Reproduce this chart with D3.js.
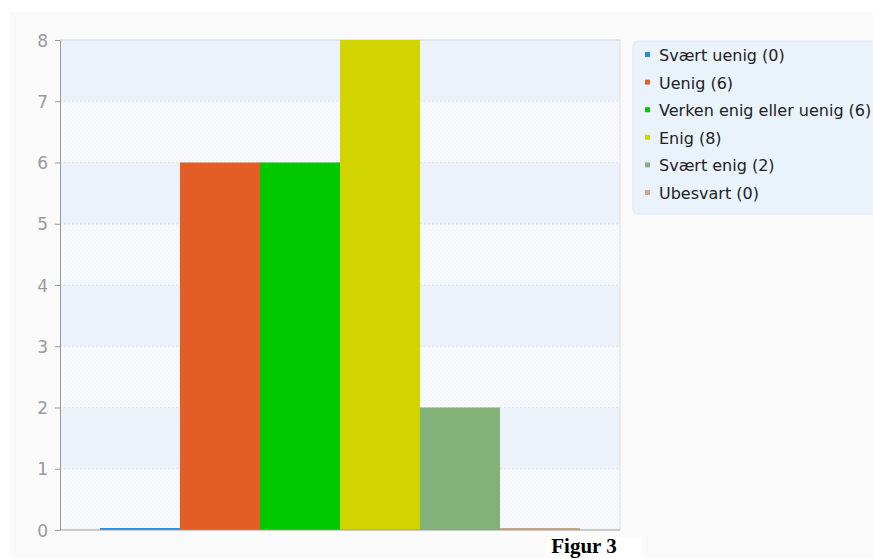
<!DOCTYPE html>
<html>
<head>
<meta charset="utf-8">
<script src="https://cdn.jsdelivr.net/npm/d3@7"></script>
<style>
	body { margin: 0; background: #fff; }
	svg { display: block; }
</style>
</head>
<body>
<svg id="chart" width="873" height="559"></svg>
<script>
var categories = ["Svært uenig", "Uenig", "Verken enig eller uenig", "Enig", "Svært enig", "Ubesvart"];
var counts = [0, 6, 6, 8, 2, 0];
var colors = ["#2b8bd6", "#e35e26", "#00c800", "#d2d400", "#84b07a", "#c9a98c"];
var yTicks = [0, 1, 2, 3, 4, 5, 6, 7, 8];
var caption = "Figur 3";

var svg = d3.select("#chart");

// page backdrop
svg.append("rect")
	.attr("x", 10).attr("y", 12)
	.attr("width", 863).attr("height", 547)
	.attr("fill", "#fafafa");

var plot = {left: 60, right: 620, top: 40, bottom: 530};

var xscale = d3.scaleBand()
	.domain(categories)
	.range([plot.left, plot.right])
	.paddingInner(0)
	.paddingOuter(0.5);

var yscale = d3.scaleLinear()
	.domain([0, 8])
	.range([plot.bottom, plot.top]);

// dotted pattern for the pale bands
var defs = svg.append("defs");
var pat = defs.append("pattern")
	.attr("id", "dots")
	.attr("width", 4).attr("height", 4)
	.attr("patternUnits", "userSpaceOnUse");
pat.append("rect").attr("width", 4).attr("height", 4).attr("fill", "#f8f9fa");
pat.append("rect").attr("width", 1).attr("height", 1).attr("fill", "#eceff3");
pat.append("rect").attr("x", 2).attr("y", 2).attr("width", 1).attr("height", 1).attr("fill", "#eceff3");

// alternating bands, top band blue
yTicks.slice(0, -1).forEach(function (v) {
	svg.append("rect")
		.attr("x", plot.left)
		.attr("y", yscale(v + 1))
		.attr("width", plot.right - plot.left)
		.attr("height", yscale(v) - yscale(v + 1))
		.attr("fill", v % 2 === 1 ? "#edf2fa" : "url(#dots)");
});

// dashed grid lines
svg.append("g")
	.selectAll("line")
	.data(yTicks.slice(1))
	.join("line")
	.attr("x1", plot.left).attr("x2", plot.right)
	.attr("y1", function (d) { return yscale(d); })
	.attr("y2", function (d) { return yscale(d); })
	.attr("stroke", "#dde2ea")
	.attr("stroke-dasharray", "2,2");

// frame top / right
svg.append("line")
	.attr("x1", plot.left).attr("x2", plot.right)
	.attr("y1", plot.top).attr("y2", plot.top)
	.attr("stroke", "#d6dbe2");
svg.append("line")
	.attr("x1", plot.right).attr("x2", plot.right)
	.attr("y1", plot.top).attr("y2", plot.bottom)
	.attr("stroke", "#d6dbe2");

// bars
svg.append("g")
	.selectAll("rect")
	.data(counts)
	.join("rect")
	.attr("x", function (d, i) { return xscale(categories[i]); })
	.attr("width", xscale.bandwidth())
	.attr("y", function (d) { return d === 0 ? plot.bottom - 2 : yscale(d); })
	.attr("height", function (d) { return d === 0 ? 2 : plot.bottom - yscale(d); })
	.attr("fill", function (d, i) { return colors[i]; });

// y axis
var yaxis = d3.axisLeft(yscale)
	.tickValues(yTicks)
	.tickFormat(d3.format("d"))
	.tickSize(5)
	.tickSizeOuter(0);
var yg = svg.append("g")
	.attr("transform", "translate(" + plot.left + ",0)")
	.call(yaxis);
yg.select(".domain").attr("stroke", "#999");
yg.selectAll(".tick line").attr("stroke", "#999");
yg.selectAll(".tick text")
	.attr("fill", "#999")
	.attr("x", -12)
	.attr("dy", "0.36em")
	.style("font-family", "DejaVu Sans")
	.style("font-size", "17px");

// baseline
svg.append("line")
	.attr("x1", plot.left).attr("x2", plot.right)
	.attr("y1", plot.bottom).attr("y2", plot.bottom)
	.attr("stroke", "#999");

// legend
var legend = svg.append("g");
legend.append("rect")
	.attr("x", 633).attr("y", 41)
	.attr("width", 260).attr("height", 173)
	.attr("rx", 5)
	.attr("fill", "#eaf2fb")
	.attr("stroke", "#dfe6ee");

var items = legend.selectAll("g.item")
	.data(categories)
	.join("g")
	.attr("class", "item")
	.attr("transform", function (d, i) { return "translate(645," + (55 + i * 27.6) + ")"; });
items.append("rect")
	.attr("x", 0).attr("y", -3)
	.attr("width", 5).attr("height", 5)
	.attr("fill", function (d, i) { return colors[i]; });
items.append("text")
	.attr("x", 14)
	.attr("y", 6)
	.style("font-family", "DejaVu Sans")
	.style("font-size", "16px")
	.attr("fill", "#222")
	.text(function (d, i) { return d + " (" + counts[i] + ")"; });

// caption
svg.append("rect")
	.attr("x", 545).attr("y", 537)
	.attr("width", 97).attr("height", 22)
	.attr("fill", "#fff");
svg.append("text")
	.attr("x", 584).attr("y", 553)
	.attr("text-anchor", "middle")
	.style("font-family", "Liberation Serif")
	.style("font-weight", "bold")
	.style("font-size", "21px")
	.attr("fill", "#000")
	.text(caption);
</script>
</body>
</html>
